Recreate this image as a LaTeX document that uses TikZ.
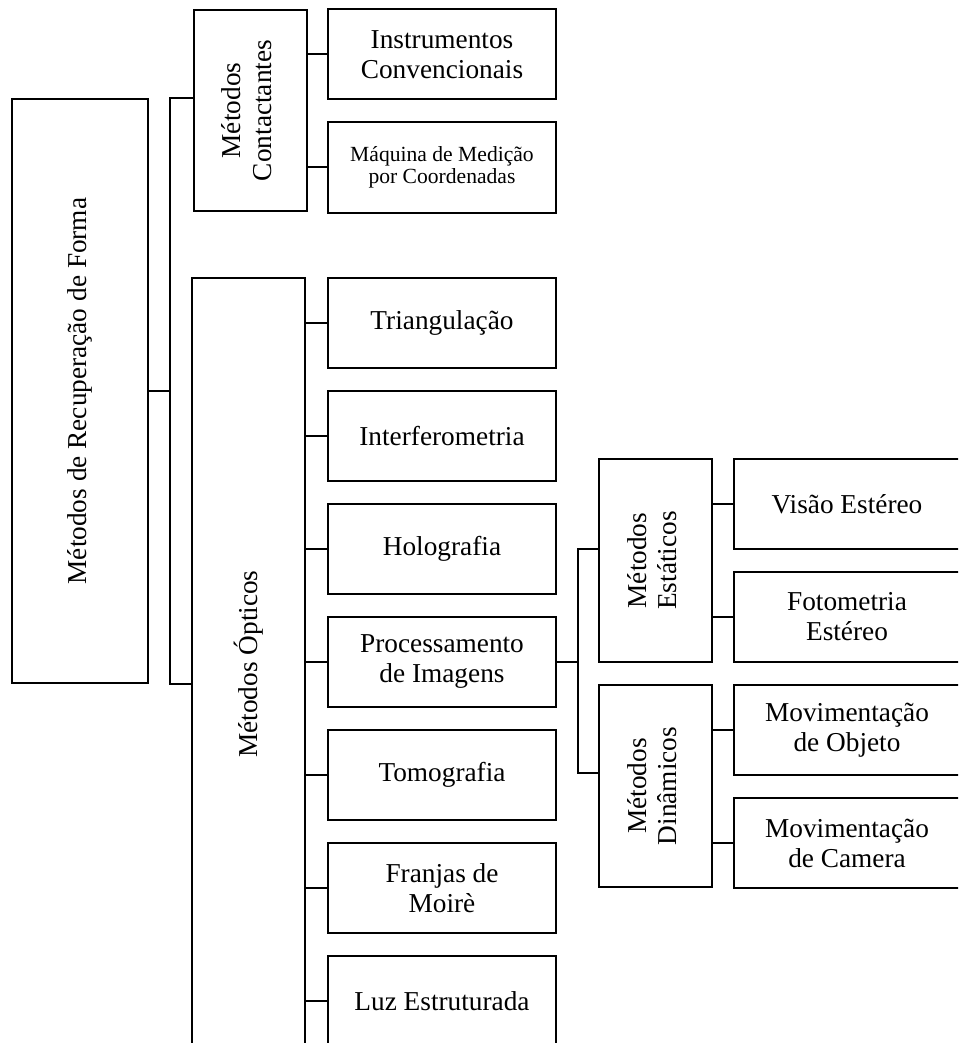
\documentclass[tikz,border=0pt]{standalone}
\usepackage{fontspec}
\setmainfont{Liberation Serif}
\usepackage{graphicx}
\usetikzlibrary{positioning,calc}

\begin{document}
\begin{tikzpicture}[
x=1pt, y=-1pt,
line width=2pt,
caixa/.style={draw, rectangle, inner sep=0pt, align=center, minimum width=228pt, minimum height=90pt, font=\fontsize{27.3}{30}\selectfont},
coluna/.style={caixa, minimum width=113pt},
]
	\useasboundingbox (0,0) rectangle (958,1043);
	\clip (0,0) rectangle (958,1043);
	\node[caixa, minimum width=136pt, minimum height=584pt] (raiz) at (80,391) {\rotatebox{90}{Métodos de Recuperação de Forma}}; %root
	\node[coluna, minimum height=201pt] (cont) at (250,110.5) {\rotatebox{90}{\begin{tabular}{@{}c@{}}Métodos\\[1pt]Contactantes\end{tabular}}};
	\node[coluna, minimum height=772pt] (opt) at (248.5,664) {\rotatebox{90}{Métodos Ópticos}};
	% contactantes
	\node[caixa] (inst) at (442,54.5) {Instrumentos\\Convencionais};
	\node[caixa, below=21pt of inst, font=\fontsize{21.6}{22}\selectfont] (maq) {Máquina de Medição\\por Coordenadas};
	% opticos
	\node[caixa] (tri) at (442,323) {Triangulação};
	\node[caixa, below=21pt of tri] (inter) {Interferometria};
	\node[caixa, below=21pt of inter] (holo) {Holografia};
	\node[caixa, below=21pt of holo] (proc) {Processamento\\de Imagens};
	\node[caixa, below=21pt of proc] (tomo) {Tomografia};
	\node[caixa, below=21pt of tomo] (moire) {Franjas de\\Moirè};
	\node[caixa, below=21pt of moire] (luz) {Luz Estruturada};
	% processamento de imagens
	\node[coluna, minimum height=203pt] (est) at (655.5,560.5) {\rotatebox{90}{\begin{tabular}{@{}c@{}}Métodos\\Estáticos\end{tabular}}};
	\node[coluna, minimum height=202pt] (din) at (655.5,786) {\rotatebox{90}{\begin{tabular}{@{}c@{}}Métodos\\Dinâmicos\end{tabular}}};
	\node[caixa, minimum width=226pt] (vis) at (847,504) {Visão Estéreo};
	\node[caixa, minimum width=226pt, below=21pt of vis] (foto) {Fotometria\\Estéreo};
	\node[caixa, minimum width=226pt, below=21pt of foto] (obj) {Movimentação\\de Objeto};
	\node[caixa, minimum width=226pt, below=21pt of obj] (cam) {Movimentação\\de Camera};

	\coordinate (tronco) at (170,391);
	\draw (raiz) -- (tronco);
	\draw (raiz.north -| cont.west) -| (tronco) |- (raiz.south -| opt.west);
	\draw (cont.east |- inst) -- (inst);
	\draw (cont.east |- maq) -- (maq);
	\draw (opt.east |- tri) -- (tri);
	\draw (opt.east |- inter) -- (inter);
	\draw (opt.east |- holo) -- (holo);
	\draw (opt.east |- proc) -- (proc);
	\draw (opt.east |- tomo) -- (tomo);
	\draw (opt.east |- moire) -- (moire);
	\draw (opt.east |- luz) -- (luz);
	\draw (proc.east) -- ++(21,0) coordinate (barra);
	\draw ([yshift=11.5pt]est.west) -| (barra) |- ([yshift=13pt]din.west);
	\draw (est.east |- vis) -- (vis);
	\draw (est.east |- foto) -- (foto);
	\draw (din.east |- obj) -- (obj);
	\draw (din.east |- cam) -- (cam);
\end{tikzpicture}
\end{document}
